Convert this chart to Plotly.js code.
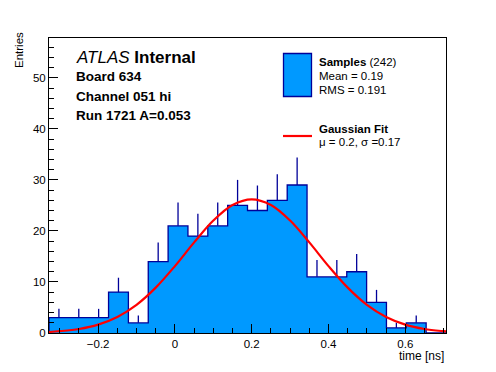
<!DOCTYPE html>
<html>
<head>
<meta charset="utf-8">
<script src="https://cdn.plot.ly/plotly-3.0.1.min.js"></script>
<style>html,body{margin:0;padding:0;background:#fff;}#chart{width:496px;height:372px;}</style>
</head>
<body>
<div id="chart"></div>
<script>
// ---- data ----
const histMin = -0.328;
const histMax = 0.706;
const counts = [3, 3, 3, 8, 2, 14, 21, 19, 21, 25, 24, 26, 29, 11, 11, 12, 6, 1, 2, 0];
const fitX = [-0.328, -0.30, -0.25, -0.20, -0.15, -0.10, -0.05, 0.00, 0.05, 0.10, 0.15, 0.20, 0.25, 0.30, 0.35, 0.40, 0.45, 0.50, 0.55, 0.60, 0.65, 0.70, 0.706];
const fitY = [0.20, 0.35, 0.79, 1.65, 3.15, 5.52, 8.89, 13.11, 17.75, 22.04, 25.09, 26.2, 25.09, 22.04, 17.75, 13.11, 8.89, 5.52, 3.15, 1.65, 0.79, 0.35, 0.31];
const xTicks = [-0.2, 0, 0.2, 0.4, 0.6];
const xTickText = ['\u22120.2', '0', '0.2', '0.4', '0.6'];
const yTicks = [0, 10, 20, 30, 40, 50];
const yTickText = ['0', '10', '20', '30', '40', '50'];
const labelLines = ['<i>ATLAS</i> <b>Internal</b>', '<b>Board 634</b>', '<b>Channel 051 hi</b>', '<b>Run 1721 A=0.053</b>'];
const legendSamples = ['<b>Samples</b> (242)', 'Mean = 0.19', 'RMS = 0.191'];
const legendFit = ['<b>Gaussian Fit</b>', '\u03bc = 0.2, \u03c3 =0.17'];

// ---- derived ----
const nBins = counts.length;
const binW = (histMax - histMin) / nBins;
const centers = counts.map((c, i) => histMin + (i + 0.5) * binW);
const edges = [];
for (let i = 0; i <= nBins; i++) edges.push(histMin + i * binW);
const stepX = [edges[0]].concat(edges);
const stepY = [0].concat(counts).concat([counts[nBins - 1]]);
const errUp = counts.map(c => Math.sqrt(c));
const errDn = counts.map(() => 0);

const FILL = '#0099ff', EDGE = '#000099', RED = '#ff0000';
const FONT = 'Liberation Sans, Arial, Helvetica, sans-serif';

// pixel helpers for plot-area frame (l=49, r=446, t=38, b=333)
const L = 49, R = 446, T = 38, B = 333;
const px = x => (x - L) / (R - L);
const py = y => (B - y) / (B - T);

const traces = [
  {type: 'bar', x: centers, y: counts, width: binW, marker: {color: FILL, line: {width: 0}}, hoverinfo: 'skip'},
  {type: 'scatter', mode: 'lines', x: stepX, y: stepY, line: {shape: 'hv', color: EDGE, width: 1.3}, hoverinfo: 'skip'},
  {type: 'scatter', mode: 'markers', x: centers, y: counts, marker: {size: 1, color: 'rgba(0,0,0,0)'},
   error_y: {type: 'data', symmetric: false, array: errUp, arrayminus: errDn, width: 0, thickness: 1.3, color: EDGE}, hoverinfo: 'skip'},
  {type: 'scatter', mode: 'lines', x: fitX, y: fitY, line: {shape: 'spline', color: RED, width: 2.2}, hoverinfo: 'skip'}
];

const ann = [];
const labelY = [57, 76, 96, 115];
const labelSize = [17, 13.5, 13.5, 13.5];
labelLines.forEach((t, i) => ann.push({text: t, xref: 'paper', yref: 'paper', x: px(74), y: py(labelY[i]), xanchor: 'left', yanchor: 'middle', showarrow: false, font: {family: FONT, size: labelSize[i], color: '#000'}}));
const sampY = [62, 76, 90];
legendSamples.forEach((t, i) => ann.push({text: t, xref: 'paper', yref: 'paper', x: px(317), y: py(sampY[i]), xanchor: 'left', yanchor: 'middle', showarrow: false, font: {family: FONT, size: 11.5, color: '#000'}}));
const fitLY = [129, 141.5];
legendFit.forEach((t, i) => ann.push({text: t, xref: 'paper', yref: 'paper', x: px(317), y: py(fitLY[i]), xanchor: 'left', yanchor: 'middle', showarrow: false, font: {family: FONT, size: 11.5, color: '#000'}}));
ann.push({text: 'Entries', xref: 'paper', yref: 'paper', x: px(19), y: py(50), xanchor: 'center', yanchor: 'middle', textangle: -90, showarrow: false, font: {family: FONT, size: 11.5, color: '#000'}});
ann.push({text: 'time [ns]', xref: 'paper', yref: 'paper', x: px(446), y: py(356), xanchor: 'right', yanchor: 'middle', showarrow: false, font: {family: FONT, size: 12, color: '#000'}});

const shapes = [
  {type: 'rect', xref: 'paper', yref: 'paper', x0: px(283.5), x1: px(311.5), y0: py(96.5), y1: py(53.5), fillcolor: FILL, line: {color: EDGE, width: 1.3}},
  {type: 'line', xref: 'paper', yref: 'paper', x0: px(283), x1: px(312), y0: py(136), y1: py(136), line: {color: RED, width: 2.2}}
];

const layout = {
  width: 496, height: 372,
  margin: {l: L, r: 496 - R, t: T, b: 372 - B, pad: 0},
  paper_bgcolor: '#fff', plot_bgcolor: '#fff',
  showlegend: false,
  bargap: 0,
  font: {family: FONT, size: 11, color: '#000'},
  xaxis: {range: [histMin, histMax], showgrid: false, zeroline: false, showline: true, mirror: true, linecolor: '#000', linewidth: 1,
    ticks: 'inside', ticklen: 9, tickcolor: '#000', tickwidth: 1, tickmode: 'array', tickvals: xTicks, ticktext: xTickText,
    minor: {dtick: 0.05, tick0: 0, ticks: 'inside', ticklen: 5, tickcolor: '#000', showgrid: false},
    tickfont: {family: FONT, size: 11.5, color: '#000'}},
  yaxis: {range: [0, 57.8], showgrid: false, zeroline: false, showline: true, mirror: true, linecolor: '#000', linewidth: 1,
    ticks: 'inside', ticklen: 9, tickcolor: '#000', tickwidth: 1, tickmode: 'array', tickvals: yTicks, ticktext: yTickText,
    minor: {dtick: 2, tick0: 0, ticks: 'inside', ticklen: 5, tickcolor: '#000', showgrid: false},
    tickfont: {family: FONT, size: 11.5, color: '#000'}},
  annotations: ann,
  shapes: shapes
};

Plotly.newPlot('chart', traces, layout, {displayModeBar: false, staticPlot: true});
</script>
</body>
</html>
